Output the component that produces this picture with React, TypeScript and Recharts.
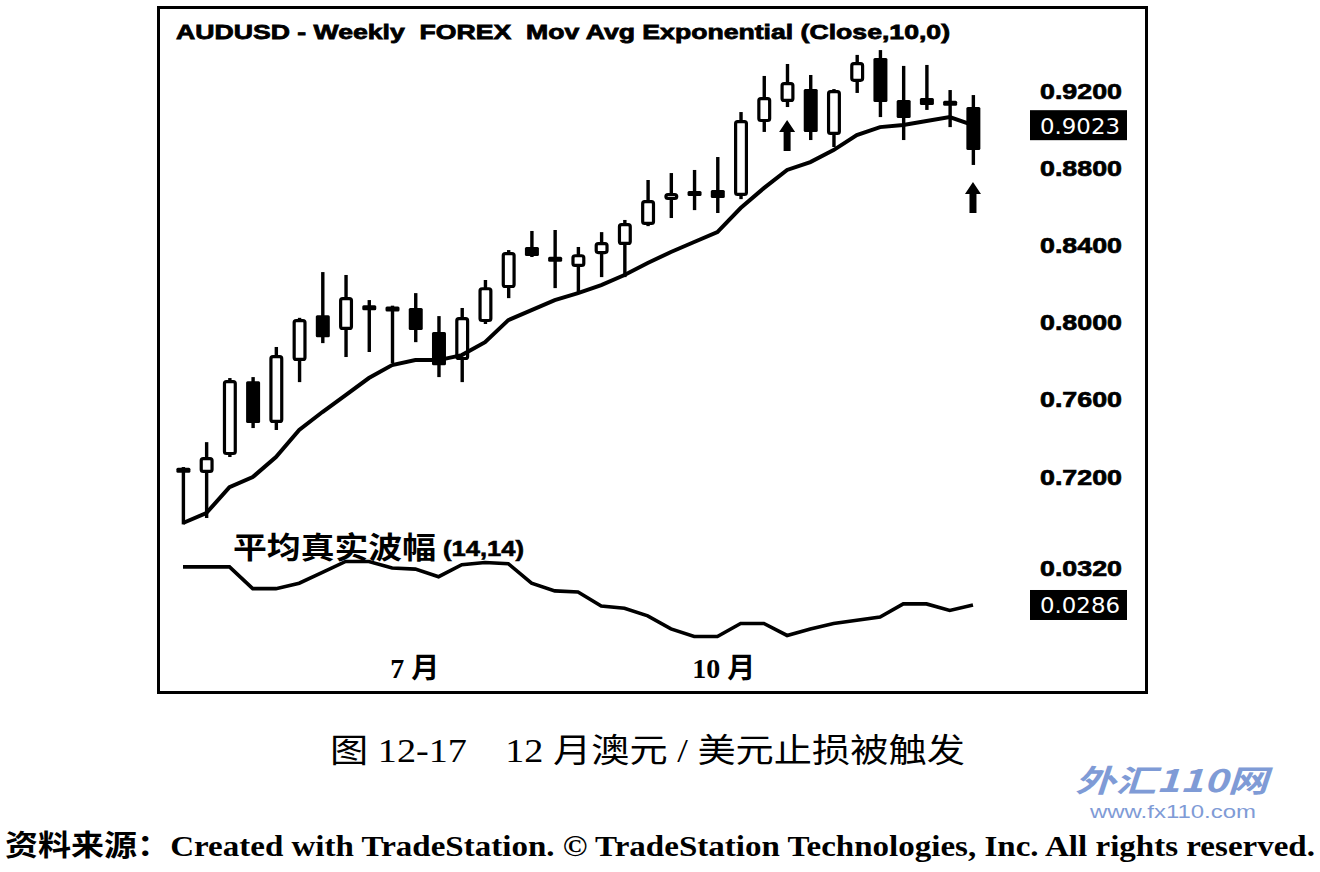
import React from 'react';
import { ComposedChart, Bar, Line, XAxis, YAxis } from 'recharts';

const weekDates = [
  '2009-05-01', '2009-05-08', '2009-05-15', '2009-05-22', '2009-05-29', '2009-06-05', '2009-06-12',
  '2009-06-19', '2009-06-26', '2009-07-03', '2009-07-10', '2009-07-17', '2009-07-24', '2009-07-31',
  '2009-08-07', '2009-08-14', '2009-08-21', '2009-08-28', '2009-09-04', '2009-09-11', '2009-09-18',
  '2009-09-25', '2009-10-02', '2009-10-09', '2009-10-16', '2009-10-23', '2009-10-30', '2009-11-06',
  '2009-11-13', '2009-11-20', '2009-11-27', '2009-12-04', '2009-12-11', '2009-12-18', '2009-12-25',
];
const openPrices = [
  0.7245, 0.7221, 0.7314, 0.7697, 0.748, 0.7801, 0.8039, 0.7962, 0.8084, 0.8082, 0.8076, 0.7951,
  0.7806, 0.8003, 0.8179, 0.8392, 0.8335, 0.8288, 0.8355, 0.8402, 0.8506, 0.8635, 0.8676, 0.8687,
  0.8656, 0.9039, 0.9143, 0.921, 0.8972, 0.9247, 0.9371, 0.9153, 0.9164, 0.914, 0.9117,
];
const highPrices = [
  0.7252, 0.7381, 0.7713, 0.7718, 0.7874, 0.8025, 0.8262, 0.8247, 0.8117, 0.8088, 0.8153, 0.8034,
  0.8076, 0.8221, 0.8376, 0.8475, 0.848, 0.8392, 0.8469, 0.8532, 0.8739, 0.8775, 0.8791, 0.8858,
  0.9091, 0.9278, 0.934, 0.9283, 0.921, 0.9387, 0.9412, 0.933, 0.9335, 0.9205, 0.9179,
];
const lowPrices = [
  0.6955, 0.6988, 0.7304, 0.7454, 0.7444, 0.7692, 0.7894, 0.7822, 0.7848, 0.7791, 0.7899, 0.7718,
  0.7692, 0.7993, 0.8127, 0.834, 0.8179, 0.8159, 0.8236, 0.8236, 0.85, 0.8542, 0.8583, 0.8568,
  0.864, 0.8988, 0.9117, 0.8946, 0.891, 0.919, 0.9065, 0.8946, 0.9102, 0.9013, 0.8817,
];
const closePrices = [
  0.7225, 0.7304, 0.7703, 0.748, 0.7832, 0.8019, 0.7925, 0.8133, 0.807, 0.806, 0.7962, 0.778,
  0.8029, 0.8184, 0.8366, 0.8345, 0.8322, 0.8355, 0.8418, 0.8516, 0.8635, 0.8672, 0.8662, 0.8646,
  0.905, 0.9169, 0.9247, 0.8988, 0.9205, 0.935, 0.9143, 0.906, 0.9127, 0.9132, 0.8894,
];
const emaValues = [
  0.6962, 0.7013, 0.7148, 0.72, 0.7304, 0.7444, 0.7537, 0.7625, 0.7713, 0.778, 0.7806, 0.7806,
  0.7832, 0.7899, 0.8013, 0.8065, 0.8117, 0.8153, 0.8195, 0.8247, 0.8309, 0.8366, 0.8418, 0.8469,
  0.8594, 0.8697, 0.8791, 0.8832, 0.8894, 0.8972, 0.9013, 0.9024, 0.9045, 0.9065, 0.9023,
];
const atrValues = [
  0.0321, 0.0321, 0.0321, 0.0301, 0.0301, 0.0306, 0.0316, 0.0326, 0.0326, 0.032, 0.0319, 0.0312,
  0.0323, 0.0325, 0.0324, 0.0306, 0.0299, 0.0298, 0.0285, 0.0283, 0.0276, 0.0264, 0.0257, 0.0257,
  0.0269, 0.0269, 0.0258, 0.0264, 0.0269, 0.0272, 0.0275, 0.0287, 0.0287, 0.0281, 0.0286,
];
const priceTicks = [0.72, 0.76, 0.8, 0.84, 0.88, 0.92];
const atrTicks = [0.032];
const lastEmaValue = 0.9023;
const lastAtrValue = 0.0286;
const monthTickDates = ['2009-07-03', '2009-10-02'];
const monthTickLabels = ['7 月', '10 月'];
const arrowDates = ['2009-10-30', '2009-12-25'];
const arrowPrices = [0.905, 0.8728];

const chartData = weekDates.map((date, i) => {
  const ai = arrowDates.indexOf(date);
  return {
    date,
    open: openPrices[i],
    high: highPrices[i],
    low: lowPrices[i],
    close: closePrices[i],
    range: [lowPrices[i], highPrices[i]],
    ema: emaValues[i],
    atr: atrValues[i],
    arrow: ai >= 0 ? arrowPrices[ai] : null,
  };
});

const FRAME_LEFT = 157;
const CHART_W = 991;
const PLOT_LEFT_MARGIN = 14.4;
const AXIS_W = 163.4;
const LABEL_X = 1040 - FRAME_LEFT;

const Candle = (props: any) => {
  const { x, y, width, height, payload } = props;
  if (!payload || x == null || y == null) return <g />;
  const top0 = Math.min(y, y + height);
  const span0 = Math.abs(height);
  const { open, close, high, low } = payload;
  const k = high - low > 0 ? span0 / (high - low) : 0;
  const cx = x + width / 2;
  const yO = top0 + (high - open) * k;
  const yC = top0 + (high - close) * k;
  let bt = Math.min(yO, yC);
  let bh = Math.abs(yO - yC);
  if (bh < 5) {
    bt = (yO + yC) / 2 - 2.5;
    bh = 5;
  }
  const up = close > open;
  return (
    <g>
      <rect x={cx - 1.7} y={top0} width={3.4} height={span0} fill="#000" />
      {up ? (
        <rect x={x + 1.6} y={bt + 1.6} width={width - 3.2} height={Math.max(bh - 3.2, 1)} rx={2}
          fill="#fff" stroke="#000" strokeWidth={3.2} />
      ) : (
        <rect x={x} y={bt} width={width} height={bh} rx={1.5} fill="#000" />
      )}
    </g>
  );
};

const EmptyShape = () => <g />;

const ArrowDot = (props: any) => {
  const { cx, cy, payload, index } = props;
  if (!payload || payload.arrow == null || cy == null || cx == null) return <g key={`a${index}`} />;
  const d = `M${cx} ${cy} L${cx + 8} ${cy + 12} L${cx + 3.5} ${cy + 12} L${cx + 3.5} ${cy + 31} L${cx - 3.5} ${cy + 31} L${cx - 3.5} ${cy + 12} L${cx - 8} ${cy + 12} Z`;
  return <path key={`a${index}`} d={d} fill="#000" />;
};

const ValueBox = ({ y, text }: { y: number; text: string }) => (
  <g>
    <rect x={LABEL_X - 10} y={y - 15} width={97} height={30} fill="#000" />
    <text x={LABEL_X} y={y + 1} dominantBaseline="central" fill="#fff" fontFamily="'DejaVu Sans', sans-serif"
      fontSize={22} textLength={80} lengthAdjust="spacingAndGlyphs">{text}</text>
  </g>
);

const AxisLabel = ({ y, text }: { y: number; text: string }) => (
  <text x={LABEL_X} y={y} dominantBaseline="central" fill="#000" stroke="#000" strokeWidth={0.7}
    fontFamily="'Liberation Sans', Arial, sans-serif"
    fontWeight="bold" fontSize={22} textLength={82} lengthAdjust="spacingAndGlyphs">{text}</text>
);

const PriceTick = (props: any) => {
  const { y, payload } = props;
  const v = payload.value;
  if (v === lastEmaValue) return <ValueBox y={y} text={v.toFixed(4)} />;
  return <AxisLabel y={y} text={v.toFixed(4)} />;
};

const AtrTick = (props: any) => {
  const { y, payload } = props;
  const v = payload.value;
  if (v === lastAtrValue) return <ValueBox y={y} text={v.toFixed(4)} />;
  return <AxisLabel y={y} text={v.toFixed(4)} />;
};

const MonthTick = (props: any) => {
  const { x, payload } = props;
  const idx = monthTickDates.indexOf(payload.value);
  if (idx < 0) return <g />;
  return (
    <text x={x - 2} y={133} dominantBaseline="central" textAnchor="start" fill="#000"
      fontFamily="'Liberation Serif', 'Noto Sans CJK SC', serif" fontWeight="bold" fontSize={28}>
      {monthTickLabels[idx]}
    </text>
  );
};

export default function App() {
  return (
    <div style={{ position: 'absolute', left: 0, top: 0, width: 1320, height: 872, background: '#fff', overflow: 'hidden' }}>
      <div style={{ position: 'absolute', left: FRAME_LEFT, top: 6, width: CHART_W, height: 688, border: '3px solid #000', boxSizing: 'border-box' }} />
      <div style={{ position: 'absolute', left: FRAME_LEFT, top: 8 }}>
        <ComposedChart width={CHART_W} height={527} data={chartData}
          margin={{ top: 34.75, right: 0, bottom: 0, left: PLOT_LEFT_MARGIN }}>
          <XAxis dataKey="date" hide />
          <YAxis yAxisId="p" orientation="right" domain={[0.69, 0.945]} type="number" allowDataOverflow
            ticks={[...priceTicks, lastEmaValue]} interval={0} width={AXIS_W} tickLine={false} axisLine={false}
            tick={<PriceTick />} />
          <Bar yAxisId="p" dataKey="range" barSize={14} shape={<Candle />} isAnimationActive={false} />
          <Line yAxisId="p" dataKey="ema" type="linear" stroke="#000" strokeWidth={4} dot={false}
            isAnimationActive={false} />
          <Line yAxisId="p" dataKey="arrow" stroke="none" dot={ArrowDot} activeDot={false}
            isAnimationActive={false} connectNulls={false} />
        </ComposedChart>
      </div>
      <div style={{ position: 'absolute', left: FRAME_LEFT, top: 535 }}>
        <ComposedChart width={CHART_W} height={158} data={chartData}
          margin={{ top: 5.8, right: 0, bottom: 0, left: PLOT_LEFT_MARGIN }}>
          <XAxis dataKey="date" scale="band" ticks={monthTickDates} interval={0} height={43.4} tickLine={false}
            axisLine={false} tick={<MonthTick />} />
          <YAxis yAxisId="a" orientation="right" domain={[0.0245, 0.0345]} type="number" allowDataOverflow
            ticks={[...atrTicks, lastAtrValue]} interval={0} width={AXIS_W} tickLine={false} axisLine={false}
            tick={<AtrTick />} />
          <Bar yAxisId="a" dataKey="atr" barSize={14} shape={<EmptyShape />} isAnimationActive={false} />
          <Line yAxisId="a" dataKey="atr" type="linear" stroke="#000" strokeWidth={3.6} dot={false}
            isAnimationActive={false} />
        </ComposedChart>
      </div>
      <svg width={1320} height={872} style={{ position: 'absolute', left: 0, top: 0, pointerEvents: 'none' }}>
        <text x={176} y={39} fontFamily="'Liberation Sans', Arial, sans-serif" fontWeight="bold" fontSize={21}
          stroke="#000" strokeWidth={0.8}
          textLength={774} lengthAdjust="spacingAndGlyphs" style={{ whiteSpace: 'pre' }}>
          AUDUSD - Weekly  FOREX  Mov Avg Exponential (Close,10,0)
        </text>
        <text x={233} y={558} fontFamily="'Noto Sans CJK SC', sans-serif" fontWeight="bold" fontSize={30}
          textLength={203} lengthAdjust="spacingAndGlyphs">平均真实波幅</text>
        <text x={443} y={556} fontFamily="'Liberation Sans', Arial, sans-serif" fontWeight="bold" fontSize={22}
          stroke="#000" strokeWidth={0.6}
          textLength={81} lengthAdjust="spacingAndGlyphs">(14,14)</text>
        <text x={330} y={762} fontFamily="'Liberation Serif', 'Noto Sans CJK SC', serif" fontSize={33}
          textLength={635} lengthAdjust="spacingAndGlyphs" style={{ whiteSpace: 'pre' }}>
          图 12-17    12 月澳元 / 美元止损被触发
        </text>
        <text x={5} y={856} fontFamily="'Liberation Serif', 'Noto Sans CJK SC', serif" fontSize={29} fontWeight="bold"
          textLength={1310} lengthAdjust="spacingAndGlyphs">
          资料来源：Created with TradeStation. © TradeStation Technologies, Inc. All rights reserved.
        </text>
        <text x={1075} y={792} fill="#7f9bd6" fontFamily="'Noto Sans CJK SC', sans-serif" fontWeight="bold"
          fontStyle="italic" fontSize={31} textLength={193} lengthAdjust="spacingAndGlyphs">外汇110网</text>
        <text x={1090} y={818} fill="#7f9bd6" fontFamily="'Liberation Sans', Arial, sans-serif" fontSize={19}
          textLength={166} lengthAdjust="spacingAndGlyphs">www.fx110.com</text>
      </svg>
    </div>
  );
}
